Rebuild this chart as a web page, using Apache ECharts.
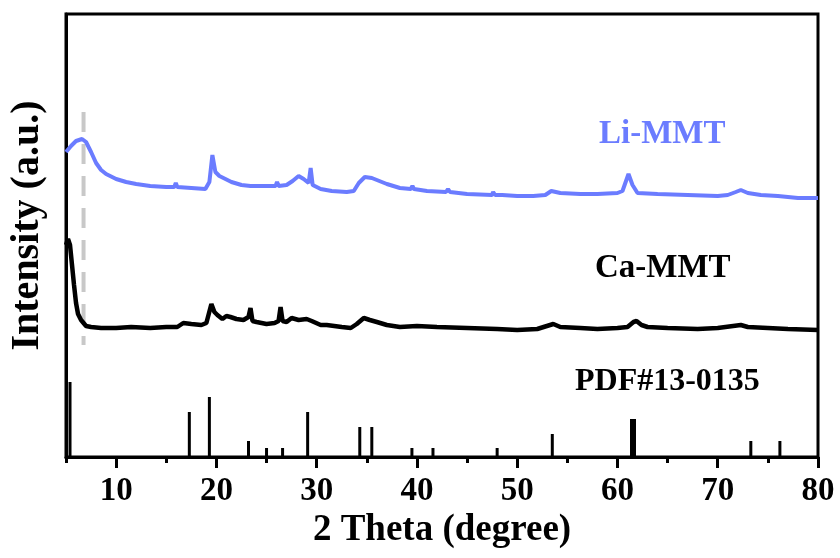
<!DOCTYPE html>
<html>
<head>
<meta charset="utf-8">
<script src="https://cdn.jsdelivr.net/npm/echarts@6/dist/echarts.min.js"></script>
<style>
    html, body { margin: 0; padding: 0; background: #fff; }
    #main { width: 840px; height: 558px; }
</style>
</head>
<body>
<div id="main"></div>
<script>
// Li-MMT 曲线 [2θ, intensity]
const liMMT = [
    [5.0, 305], [5.5, 311], [6.0, 316], [6.6, 318], [7.0, 315], [7.5, 305], [8.0, 294], [8.5, 287],
    [9.0, 283], [10.0, 278], [11.0, 275], [12.0, 273], [13.4, 271], [15.0, 270], [15.8, 270],
    [15.95, 274], [16.1, 270], [17.5, 269], [18.9, 268], [19.3, 275], [19.6, 302], [19.9, 285],
    [20.3, 281], [20.7, 279], [21.5, 275], [22.5, 272], [23.4, 271], [25.0, 271], [25.9, 271],
    [26.05, 275], [26.2, 271], [27.0, 272], [27.6, 276], [28.2, 281], [28.7, 278], [29.2, 274],
    [29.4, 289], [29.6, 272], [30.4, 268], [31.5, 266], [33.0, 265], [33.7, 266], [34.2, 274],
    [34.8, 280], [35.5, 279], [36.0, 277], [37.0, 273], [38.3, 269], [39.4, 268], [39.55, 271],
    [39.7, 268], [41.0, 266], [42.9, 265], [43.1, 268], [43.3, 265], [45.0, 263], [47.5, 262],
    [47.6, 265], [47.8, 262], [48.5, 262], [50.0, 261], [51.6, 261], [52.8, 262], [53.4, 266],
    [54.3, 264], [56.3, 263], [58.0, 263], [60.0, 264], [60.5, 266], [61.1, 283], [61.5, 272],
    [62.0, 264], [64.0, 263], [67.0, 262], [70.0, 261], [71.0, 262], [71.8, 265], [72.3, 267],
    [73.0, 264], [74.3, 262], [76.0, 261], [78.0, 259], [80.0, 259]
]

// Ca-MMT 曲线
const caMMT = [
    [5.0, 212], [5.2, 218], [5.4, 212], [5.6, 192], [5.8, 172], [6.0, 154], [6.2, 143], [6.5, 137],
    [7.0, 131], [7.5, 130], [8.5, 129], [10.0, 129], [11.5, 130], [13.4, 129], [15.0, 130],
    [16.1, 130], [16.7, 134], [17.5, 133], [18.5, 132], [19.0, 134], [19.5, 153], [19.8, 145],
    [20.1, 142], [20.6, 138], [21.0, 141], [21.4, 140], [22.0, 138], [22.7, 137], [23.2, 140],
    [23.4, 149], [23.6, 136], [24.0, 135], [25.0, 133], [25.8, 134], [26.2, 136], [26.4, 150],
    [26.6, 136], [27.0, 135], [27.5, 139], [28.2, 137], [29.0, 138], [29.5, 136], [30.4, 132],
    [31.0, 132], [32.5, 130], [33.4, 129], [34.0, 133], [34.7, 139], [35.3, 137], [36.0, 135],
    [37.0, 132], [38.3, 130], [40.0, 131], [42.0, 130], [45.0, 129], [48.0, 128], [50.0, 127],
    [52.0, 128], [53.6, 133], [54.3, 130], [56.3, 129], [58.0, 128], [60.0, 129], [61.0, 130],
    [61.6, 135], [61.9, 136], [62.4, 132], [63.0, 130], [65.0, 129], [68.0, 128], [70.0, 129],
    [72.3, 132], [73.0, 130], [75.0, 129], [77.0, 128], [80.0, 127]
]

// PDF#13-0135 标准卡片
const pdfPos = [5.4, 17.3, 19.3, 23.2, 25.0, 26.6, 29.1, 34.3, 35.5, 39.5, 41.6, 48.0, 53.5, 61.4, 61.7, 73.3, 76.2]
const pdfInt = [75, 45, 60, 16, 9, 9, 45, 30, 30, 9, 9, 9, 23, 38, 38, 16, 16]

// 虚线参考线 (2θ = 6.75)
const refLine = [[6.75, 345], [6.75, 112]]

const font = "'Times New Roman', 'Liberation Serif', serif"

// 主网格 2θ 5~80；第二网格从 10 开始，只用来画 10 间隔的长刻度和标签
const gridLeft = 66
const gridRight = 22
const pxPerDeg = (840 - gridLeft - gridRight) / 75

var myChart = echarts.init(document.getElementById('main'))

var option = {
    animation: false,
    grid: [
        {
            left: gridLeft,
            right: gridRight,
            top: 14,
            bottom: 101,
            outerBoundsMode: 'none',
            show: true,
            borderColor: '#000',
            borderWidth: 3
        },
        {
            left: gridLeft + 5 * pxPerDeg,
            right: gridRight,
            top: 14,
            bottom: 101,
            outerBoundsMode: 'none',
            show: false
        }
    ],
    xAxis: [
        {
            type: 'value',
            gridIndex: 0,
            min: 5,
            max: 80,
            interval: 5,
            name: '2 Theta (degree)',
            nameLocation: 'middle',
            nameGap: 55,
            nameTextStyle: { fontFamily: font, fontWeight: 'bold', fontSize: 37, color: '#000' },
            axisLine: { show: true, onZero: false, lineStyle: { color: '#000', width: 3 } },
            axisTick: { show: true, length: 6, lineStyle: { width: 3, color: '#000' } },
            axisLabel: { show: false },
            splitLine: { show: false }
        },
        {
            type: 'value',
            gridIndex: 1,
            min: 10,
            max: 80,
            interval: 10,
            position: 'bottom',
            axisLine: { show: false, onZero: false },
            axisTick: { show: true, length: 11, lineStyle: { width: 3, color: '#000' } },
            axisLabel: { margin: 18, fontFamily: font, fontWeight: 'bold', fontSize: 33, color: '#000' },
            splitLine: { show: false }
        }
    ],
    yAxis: [
        {
            type: 'value',
            gridIndex: 0,
            min: 0,
            max: 443,
            name: 'Intensity (a.u.)',
            nameLocation: 'middle',
            nameGap: 18,
            nameRotate: 90,
            nameTextStyle: { fontFamily: font, fontWeight: 'bold', fontSize: 40, color: '#000', padding: [0, 0, 0, 20] },
            axisLine: { show: true, lineStyle: { color: '#000', width: 3 } },
            axisTick: { show: false },
            axisLabel: { show: false },
            splitLine: { show: false }
        },
        {
            type: 'value',
            gridIndex: 1,
            min: 0,
            max: 443,
            show: false
        }
    ],
    series: [
        {
            type: 'line',
            data: refLine,
            symbol: 'none',
            lineStyle: { color: '#c8c8c8', width: 4, type: [20, 12] },
            z: 1
        },
        {
            type: 'line',
            data: liMMT,
            symbol: 'none',
            lineStyle: { color: '#6b7cff', width: 4 },
            z: 3
        },
        {
            type: 'line',
            data: caMMT,
            symbol: 'none',
            lineStyle: { color: '#000', width: 4.5 },
            z: 3
        },
        {
            type: 'bar',
            data: pdfPos.map((x, i) => [x, pdfInt[i]]),
            barWidth: 3,
            itemStyle: { color: '#000' },
            z: 3
        }
    ],
    graphic: [
        { type: 'text', left: 599, top: 118, style: { text: 'Li-MMT', fill: '#6b7cff', font: "bold 33px 'Times New Roman', 'Liberation Serif', serif" } },
        { type: 'text', left: 595, top: 252, style: { text: 'Ca-MMT', fill: '#000', font: "bold 33px 'Times New Roman', 'Liberation Serif', serif" } },
        { type: 'text', left: 575, top: 366, style: { text: 'PDF#13-0135', fill: '#000', font: "bold 32px 'Times New Roman', 'Liberation Serif', serif" } }
    ]
}

myChart.setOption(option)
</script>
</body>
</html>
